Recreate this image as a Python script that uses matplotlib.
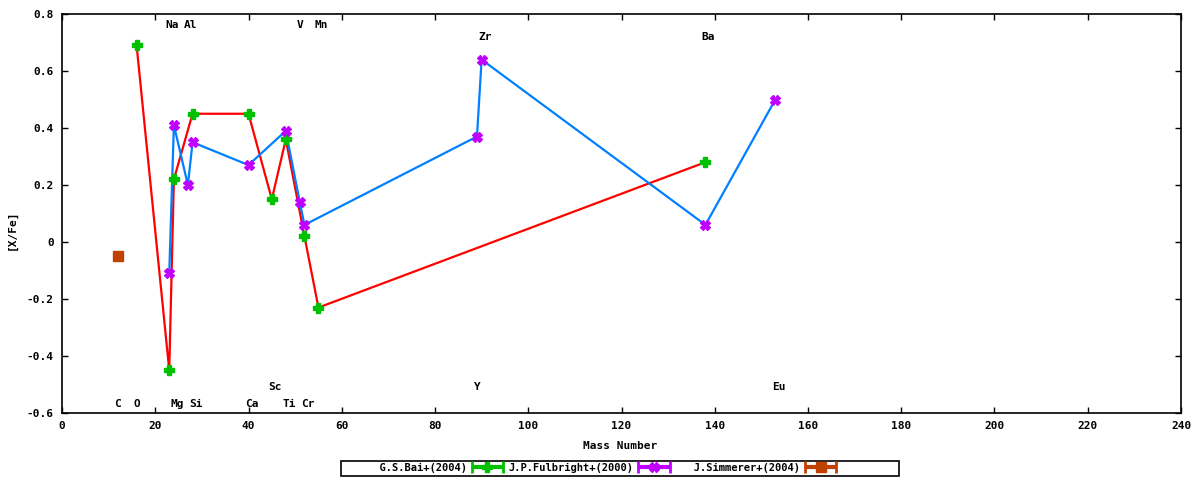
import numpy as np
import matplotlib
matplotlib.use('Agg')
import matplotlib.pyplot as plt
from matplotlib.container import ErrorbarContainer
from matplotlib.legend_handler import HandlerErrorbar
from matplotlib.patches import Rectangle

# ---- data ----
bai_mass = [16, 23, 24, 28, 40, 45, 48, 52, 55, 138]
bai_xfe = [0.69, -0.45, 0.22, 0.45, 0.45, 0.15, 0.36, 0.02, -0.23, 0.28]
ful_mass = [23, 24, 27, 28, 40, 48, 51, 52, 89, 90, 138, 153]
ful_xfe = [-0.11, 0.41, 0.20, 0.35, 0.27, 0.39, 0.14, 0.06, 0.37, 0.64, 0.06, 0.50]
sim_mass = [12]
sim_xfe = [-0.05]

elem_names = ['C', 'O', 'Na', 'Mg', 'Al', 'Si', 'Ca', 'Sc', 'Ti', 'V', 'Cr', 'Mn',
              'Y', 'Zr', 'Ba', 'Eu']
elem_mass = [12, 16, 23, 24, 27, 28, 40, 45, 48, 51, 52, 55, 89, 90, 138, 153]
elem_label_y = [-0.57, -0.57, 0.76, -0.57, 0.76, -0.57, -0.57, -0.51, -0.57, 0.76,
                -0.57, 0.76, -0.51, 0.72, 0.72, -0.51]

series_labels = ['G.S.Bai+(2004)', 'J.P.Fulbright+(2000)', 'J.Simmerer+(2004)']

xticks = list(range(0, 241, 20))
yticks = [-0.6, -0.4, -0.2, 0.0, 0.2, 0.4, 0.6, 0.8]
yticklabels = ['-0.6', '-0.4', '-0.2', '0', '0.2', '0.4', '0.6', '0.8']

# ---- style ----
FONT = 'DejaVu Sans Mono'
plt.rcParams['font.family'] = [FONT]
plt.rcParams['font.weight'] = 'bold'
plt.rcParams['font.size'] = 8

GREEN = '#00c000'
RED = '#ff0000'
BLUE = '#0080ff'
PURPLE = '#c000ff'
BROWN = '#c04000'

fig = plt.figure(figsize=(12, 4.8), dpi=100)
ax = fig.add_axes([62 / 1200, 1 - 413 / 480, (1181 - 62) / 1200, (413 - 14) / 480])

ax.plot(bai_mass, bai_xfe, color=RED, lw=1.6, zorder=2)
ax.plot(ful_mass, ful_xfe, color=BLUE, lw=1.6, zorder=2)
ax.plot(bai_mass, bai_xfe, ls='none', marker='P', ms=7, color=GREEN, mec=GREEN, zorder=3)
ax.plot(ful_mass, ful_xfe, ls='none', marker='X', ms=7, color=PURPLE, mec=PURPLE, zorder=4)
ax.plot(sim_mass, sim_xfe, ls='none', marker='s', ms=6.5, color=BROWN, zorder=4)

# legend handles (error-bar style samples as in the original)
width = max(len(s) for s in series_labels)
h1 = ax.errorbar([np.nan], [np.nan], xerr=[1], fmt='P', ms=7, color=GREEN,
                 elinewidth=3, capsize=4, capthick=2, label=series_labels[0].rjust(width))
h2 = ax.errorbar([np.nan], [np.nan], xerr=[1], fmt='X', ms=7, color=PURPLE,
                 elinewidth=3, capsize=4, capthick=2, label=series_labels[1].rjust(width))
h3 = ax.errorbar([np.nan], [np.nan], xerr=[1], fmt='s', ms=6.5, color=BROWN,
                 elinewidth=3, capsize=4, capthick=2, label=series_labels[2].rjust(width))

for name, m, yy in zip(elem_names, elem_mass, elem_label_y):
    ax.annotate(name, xy=(m, yy), xytext=((len(name) - 1) * 2.2, 0),
                textcoords='offset points',
                ha='center', va='center', fontsize=8, fontweight='bold')

ax.set_xlim(0, 240)
ax.set_ylim(-0.6, 0.8)
ax.set_xticks(xticks)
ax.set_yticks(yticks)
ax.set_yticklabels(yticklabels)
ax.tick_params(direction='in', length=4, width=1, top=True, right=True,
               labelsize=8, pad=6)
for s in ax.spines.values():
    s.set_linewidth(1.2)
ax.set_xlabel('Mass Number', fontsize=8, fontweight='bold')
ax.set_ylabel('[X/Fe]', fontsize=8, fontweight='bold')
ax.xaxis.set_label_coords((620 - 62) / 1119, (413 - 446) / 399)
ax.yaxis.set_label_coords((12 - 62) / 1119, (413 - 230) / 399)
ax.xaxis.label.set_va('center')
ax.yaxis.label.set_va('center')

leg = fig.legend(handles=[h1, h2, h3], loc='center', bbox_to_anchor=(589 / 1200, 1 - 468 / 480),
                 ncol=3, frameon=False, markerfirst=False, fontsize=7.5,
                 handlelength=3.0, handletextpad=0.5, columnspacing=0.5,
                 borderpad=0, borderaxespad=0,
                 handler_map={ErrorbarContainer: HandlerErrorbar(xerr_size=1.5)})
fig.patches.append(Rectangle((341 / 1200, 4 / 480), 558 / 1200, 15 / 480,
                             transform=fig.transFigure, fill=False,
                             edgecolor='black', lw=1.2))

fig.savefig('out.png', dpi=100)
